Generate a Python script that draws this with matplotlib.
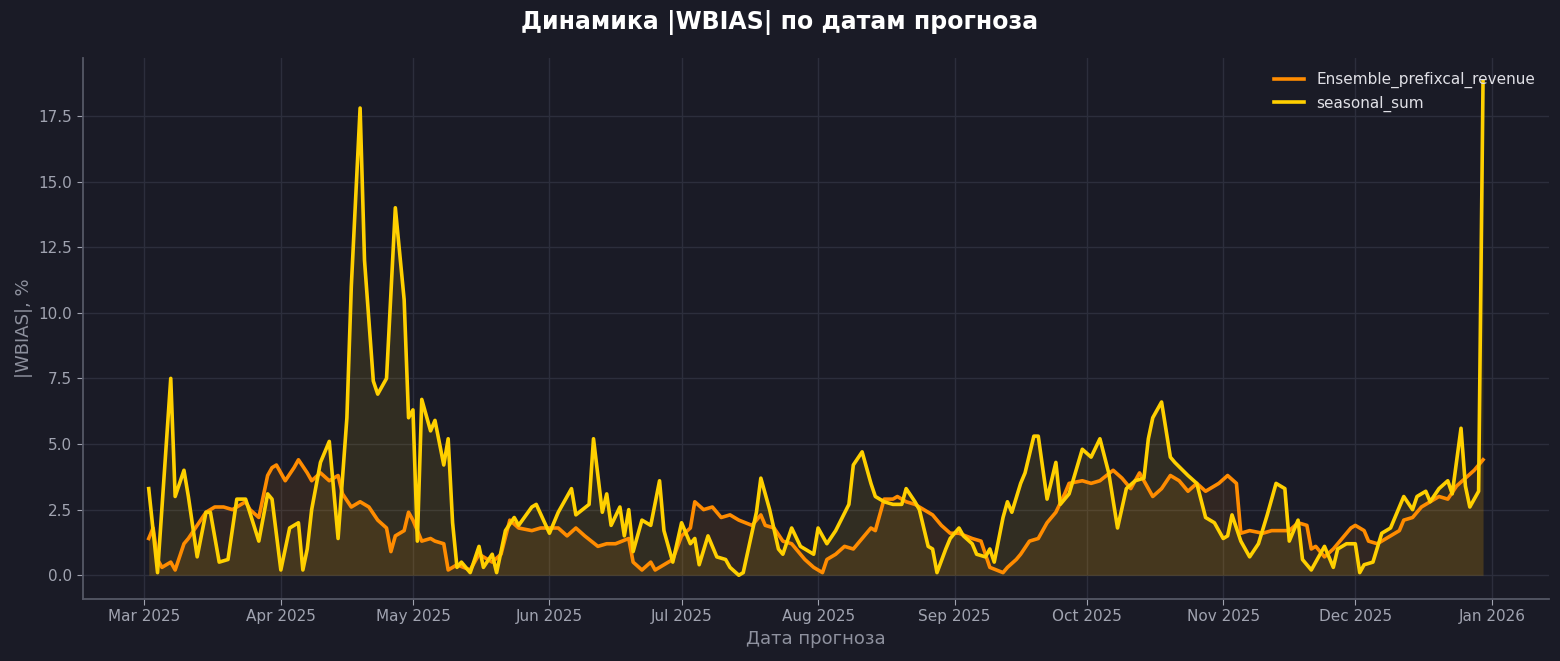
import numpy as np
import pandas as pd
import matplotlib
matplotlib.use("Agg")
import matplotlib.pyplot as plt
import matplotlib.dates as mdates

# day offsets from 2025-03-01 and |WBIAS| values
seasonal_days = [1, 3, 6, 7, 9, 10, 12, 14, 15, 17, 19, 21, 23, 26, 28, 29, 31, 33, 35, 36, 37, 38, 40, 42, 44, 46, 47, 49, 50, 52, 53, 55, 57, 59, 60, 61, 62, 63, 65, 66, 68, 69, 70, 71, 72, 74, 76, 77, 79, 80, 82, 84, 85, 88, 89, 92, 94, 97, 98, 101, 102, 104, 105, 106, 108, 109, 110, 111, 113, 115, 117, 118, 120, 122, 124, 125, 126, 128, 130, 132, 133, 135, 136, 139, 140, 142, 144, 145, 147, 149, 150, 152, 153, 155, 157, 160, 161, 163, 165, 166, 168, 170, 172, 173, 175, 176, 178, 179, 180, 182, 183, 185, 186, 188, 189, 191, 192, 193, 195, 196, 197, 199, 200, 202, 203, 205, 206, 207, 208, 210, 213, 215, 217, 219, 221, 223, 225, 227, 228, 229, 231, 233, 234, 237, 239, 241, 243, 245, 246, 247, 249, 251, 253, 255, 257, 259, 260, 262, 263, 265, 268, 270, 271, 273, 275, 276, 277, 279, 281, 283, 285, 286, 288, 289, 291, 292, 294, 296, 297, 299, 300, 301, 303, 304]
seasonal_vals = [3.3, 0.1, 7.5, 3.0, 4.0, 3.0, 0.7, 2.4, 2.4, 0.5, 0.6, 2.9, 2.9, 1.3, 3.1, 2.9, 0.2, 1.8, 2.0, 0.2, 1.0, 2.5, 4.3, 5.1, 1.4, 6.0, 11.0, 17.8, 12.0, 7.4, 6.9, 7.5, 14.0, 10.5, 6.0, 6.3, 1.3, 6.7, 5.5, 5.9, 4.2, 5.2, 2.0, 0.3, 0.5, 0.1, 1.1, 0.3, 0.8, 0.1, 1.7, 2.2, 1.9, 2.6, 2.7, 1.6, 2.4, 3.3, 2.3, 2.7, 5.2, 2.4, 3.1, 1.9, 2.6, 1.5, 2.5, 0.9, 2.1, 1.9, 3.6, 1.7, 0.5, 2.0, 1.2, 1.4, 0.4, 1.5, 0.7, 0.6, 0.3, 0.0, 0.1, 2.4, 3.7, 2.5, 1.0, 0.8, 1.8, 1.1, 1.0, 0.8, 1.8, 1.2, 1.7, 2.7, 4.2, 4.7, 3.5, 3.0, 2.8, 2.7, 2.7, 3.3, 2.8, 2.5, 1.1, 1.0, 0.1, 1.0, 1.4, 1.8, 1.5, 1.2, 0.8, 0.7, 1.0, 0.5, 2.2, 2.8, 2.4, 3.5, 3.9, 5.3, 5.3, 2.9, 3.6, 4.3, 2.7, 3.1, 4.8, 4.5, 5.2, 3.9, 1.8, 3.3, 3.6, 3.7, 5.2, 6.0, 6.6, 4.5, 4.3, 3.8, 3.5, 2.2, 2.0, 1.4, 1.5, 2.3, 1.3, 0.7, 1.2, 2.3, 3.5, 3.3, 1.3, 2.1, 0.6, 0.2, 1.1, 0.3, 1.0, 1.2, 1.2, 0.1, 0.4, 0.5, 1.6, 1.8, 2.6, 3.0, 2.5, 3.0, 3.2, 2.8, 3.3, 3.6, 3.1, 5.6, 3.4, 2.6, 3.2, 18.8]

ensemble_days = [1, 2, 3, 4, 6, 7, 9, 10, 12, 14, 16, 18, 20, 21, 23, 24, 26, 28, 29, 30, 32, 34, 35, 37, 38, 40, 42, 44, 45, 47, 49, 51, 53, 55, 56, 57, 59, 60, 61, 63, 65, 66, 68, 69, 71, 74, 76, 79, 81, 83, 85, 88, 90, 92, 94, 96, 98, 100, 103, 105, 107, 110, 111, 113, 115, 116, 118, 120, 122, 124, 125, 127, 129, 131, 133, 135, 138, 140, 141, 143, 145, 147, 149, 150, 152, 154, 155, 157, 159, 161, 163, 165, 166, 168, 170, 171, 173, 175, 177, 179, 181, 183, 185, 188, 190, 192, 195, 196, 198, 199, 201, 203, 205, 207, 209, 210, 213, 215, 217, 220, 222, 224, 226, 229, 231, 233, 235, 237, 239, 241, 244, 246, 248, 249, 251, 254, 256, 258, 260, 262, 264, 265, 266, 268, 270, 272, 274, 275, 277, 278, 280, 282, 285, 286, 288, 290, 292, 294, 296, 298, 300, 302, 304]
ensemble_vals = [1.4, 1.8, 0.6, 0.3, 0.5, 0.2, 1.2, 1.4, 1.9, 2.4, 2.6, 2.6, 2.5, 2.6, 2.8, 2.5, 2.2, 3.8, 4.1, 4.2, 3.6, 4.1, 4.4, 3.9, 3.6, 3.9, 3.6, 3.8, 3.1, 2.6, 2.8, 2.6, 2.1, 1.8, 0.9, 1.5, 1.7, 2.4, 2.1, 1.3, 1.4, 1.3, 1.2, 0.2, 0.4, 0.2, 0.8, 0.5, 0.8, 2.1, 1.8, 1.7, 1.8, 1.8, 1.8, 1.5, 1.8, 1.5, 1.1, 1.2, 1.2, 1.4, 0.5, 0.2, 0.5, 0.2, 0.4, 0.6, 1.5, 1.8, 2.8, 2.5, 2.6, 2.2, 2.3, 2.1, 1.9, 2.3, 1.9, 1.8, 1.3, 1.2, 0.8, 0.6, 0.3, 0.1, 0.6, 0.8, 1.1, 1.0, 1.4, 1.8, 1.7, 2.9, 2.9, 3.0, 2.8, 2.7, 2.5, 2.3, 1.9, 1.6, 1.6, 1.4, 1.3, 0.3, 0.1, 0.3, 0.6, 0.8, 1.3, 1.4, 2.0, 2.4, 3.1, 3.5, 3.6, 3.5, 3.6, 4.0, 3.7, 3.3, 3.9, 3.0, 3.3, 3.8, 3.6, 3.2, 3.5, 3.2, 3.5, 3.8, 3.5, 1.6, 1.7, 1.6, 1.7, 1.7, 1.7, 2.0, 1.9, 1.0, 1.1, 0.7, 1.0, 1.4, 1.8, 1.9, 1.7, 1.3, 1.2, 1.4, 1.7, 2.1, 2.2, 2.6, 2.8, 3.0, 2.9, 3.4, 3.7, 4.0, 4.4]

start = pd.Timestamp("2025-03-01")
seas_dates = start + pd.to_timedelta(seasonal_days, unit="D")
ens_dates = start + pd.to_timedelta(ensemble_days, unit="D")

bg = "#1a1b26"
orange = "#ff8c00"
yellow = "#ffd000"

fig = plt.figure(figsize=(15.6, 6.61), dpi=100, facecolor=bg)
ax = fig.add_axes([0.053, 0.094, 0.94, 0.818])
ax.set_facecolor(bg)

ax.fill_between(ens_dates, ensemble_vals, 0, color=orange, alpha=0.1, lw=0)
ax.fill_between(seas_dates, seasonal_vals, 0, color=yellow, alpha=0.1, lw=0)
ax.plot(ens_dates, ensemble_vals, color=orange, lw=2.6, label="Ensemble_prefixcal_revenue")
ax.plot(seas_dates, seasonal_vals, color=yellow, lw=2.6, label="seasonal_sum")

ax.set_xlim(pd.Timestamp("2025-02-15"), pd.Timestamp("2026-01-14"))
ax.set_ylim(-0.9, 19.7)
ax.set_yticks(np.arange(0, 17.6, 2.5))
ax.xaxis.set_major_locator(mdates.MonthLocator())
ax.xaxis.set_major_formatter(mdates.DateFormatter("%b %Y"))

ax.grid(True, color="#2c2e3c", lw=1)
ax.set_axisbelow(True)
for s in ["top", "right"]:
    ax.spines[s].set_visible(False)
for s in ["left", "bottom"]:
    ax.spines[s].set_color("#555866")
    ax.spines[s].set_linewidth(1.3)
ax.tick_params(colors="#a0a3b0", labelsize=11, length=4)

ax.set_xlabel("Дата прогноза", color="#8e919e", fontsize=13)
ax.set_ylabel("|WBIAS|, %", color="#8e919e", fontsize=13)
fig.suptitle("Динамика |WBIAS| по датам прогноза", color="white", fontsize=17,
             fontweight="bold", y=0.985)

leg = ax.legend(loc="upper right", frameon=False, fontsize=11, handlelength=2)
for t in leg.get_texts():
    t.set_color("#e0e0e6")

fig.savefig("out.png", dpi=100, facecolor=bg)
